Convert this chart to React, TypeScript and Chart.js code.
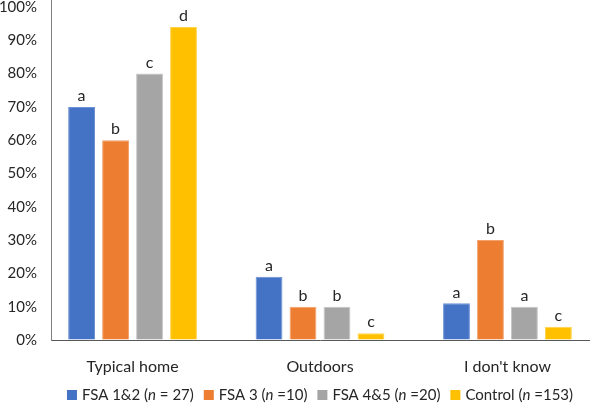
import React, { useEffect, useRef } from "react";
import { Chart, registerables } from "chart.js";

Chart.register(...registerables);

const categories = ["Typical home", "Outdoors", "I don't know"];
const seriesNames = ["FSA 1&2", "FSA 3", "FSA 4&5", "Control"];
const seriesN = [" = 27)", " =10)", " =20)", " =153)"];
const seriesColors = ["#4472C4", "#ED7D31", "#A5A5A5", "#FFC000"];
const seriesBorders = ["#6a8fd4", "#f3a06a", "#c4c4c4", "#ffd24d"];
const fsa12 = [70, 19, 11];
const fsa3 = [60, 10, 30];
const fsa45 = [80, 10, 10];
const control = [94, 2, 4];
const letters12 = ["a", "a", "a"];
const letters3 = ["b", "b", "b"];
const letters45 = ["c", "b", "a"];
const lettersControl = ["d", "c", "c"];
const yTicks = [0, 10, 20, 30, 40, 50, 60, 70, 80, 90, 100];

const seriesValues = [fsa12, fsa3, fsa45, control];
const seriesLetters = [letters12, letters3, letters45, lettersControl];

const FONT = "Lato, 'Open Sans', sans-serif";
const TEXT = "#262626";

export default function App() {
  const ref = useRef<HTMLCanvasElement | null>(null);
  useEffect(() => {
    document.body.style.margin = "0";
    const canvas = ref.current!;
    const lettersPlugin = {
      id: "letters",
      afterDatasetsDraw(chart: any) {
        const ctx = chart.ctx;
        ctx.save();
        ctx.font = `16px ${FONT}`;
        ctx.fillStyle = TEXT;
        ctx.textAlign = "center";
        ctx.textBaseline = "bottom";
        chart.data.datasets.forEach((ds: any, di: number) => {
          const meta = chart.getDatasetMeta(di);
          meta.data.forEach((el: any, i: number) => {
            ctx.fillText(seriesLetters[di][i], el.x, el.y - 3);
          });
        });
        ctx.restore();
      },
    };
    const legendPlugin = {
      id: "customLegend",
      afterDraw(chart: any) {
        const ctx = chart.ctx;
        const area = chart.chartArea;
        const y = 395;
        const box = 10;
        const gapBox = 5;
        const gapItem = 10;
        const normal = `15px ${FONT}`;
        const italic = `italic 15px ${FONT}`;
        ctx.save();
        const widths = seriesNames.map((name, i) => {
          ctx.font = normal;
          const a = ctx.measureText(name + " (").width;
          const c = ctx.measureText(seriesN[i]).width;
          ctx.font = italic;
          const b = ctx.measureText("n").width;
          return { a, b, c, total: box + gapBox + a + b + c };
        });
        const total =
          widths.reduce((s, w) => s + w.total, 0) + gapItem * (widths.length - 1);
        let x = (area.left + area.right) / 2 - total / 2;
        ctx.textBaseline = "middle";
        ctx.textAlign = "left";
        seriesNames.forEach((name, i) => {
          ctx.fillStyle = seriesColors[i];
          ctx.fillRect(x, y - box / 2, box, box);
          let tx = x + box + gapBox;
          ctx.fillStyle = TEXT;
          ctx.font = normal;
          ctx.fillText(name + " (", tx, y);
          tx += widths[i].a;
          ctx.font = italic;
          ctx.fillText("n", tx, y);
          tx += widths[i].b;
          ctx.font = normal;
          ctx.fillText(seriesN[i], tx, y);
          x += widths[i].total + gapItem;
        });
        ctx.restore();
      },
    };
    const chart = new Chart(canvas, {
      type: "bar",
      data: {
        datasets: seriesNames.map((name, di) => ({
          label: name,
          data: seriesValues[di].map((v, i) => ({ x: i, y: v })),
          backgroundColor: seriesColors[di],
          borderColor: seriesBorders[di],
          borderWidth: 1,
          categoryPercentage: 0.725,
          barPercentage: 0.79,
        })),
      },
      options: {
        animation: false,
        responsive: false,
        maintainAspectRatio: false,
        layout: { padding: { top: 0, right: 1, bottom: 0, left: 0 } },
        plugins: { legend: { display: false }, tooltip: { enabled: false } },
        scales: {
          x: {
            type: "linear",
            offset: false,
            min: -0.435,
            max: 2.435,
            grid: { display: true, color: "rgba(0,0,0,0)", drawTicks: false },
            border: { display: true, color: "#595959", width: 1 },
            afterBuildTicks: (scale: any) => {
              scale.ticks = categories.map((_, i) => ({ value: i }));
            },
            afterFit: (scale: any) => {
              scale.height = 64;
              scale.paddingLeft = 0;
              scale.paddingRight = 0;
              scale.paddingTop = 0;
              scale.paddingBottom = 0;
            },
            ticks: {
              autoSkip: false,
              maxRotation: 0,
              padding: 17,
              color: TEXT,
              font: { family: FONT, size: 16 },
              callback: (v: any) => categories[v as number] ?? "",
            },
          },
          y: {
            type: "linear",
            min: 0,
            max: 102.1,
            grid: { display: true, color: "rgba(0,0,0,0)", drawTicks: false },
            border: { display: true, color: "#7f7f7f", width: 1 },
            afterBuildTicks: (scale: any) => {
              scale.ticks = yTicks.map((v) => ({ value: v }));
            },
            afterFit: (scale: any) => {
              scale.width = 51;
              scale.paddingTop = 0;
              scale.paddingBottom = 0;
              scale.paddingLeft = 0;
              scale.paddingRight = 0;
            },
            ticks: {
              padding: 14,
              color: TEXT,
              font: { family: FONT, size: 15 },
              callback: (v: any) => `${v}%`,
            },
          },
        },
      },
      plugins: [lettersPlugin, legendPlugin],
    });
    return () => chart.destroy();
  }, []);
  return (
    <div style={{ width: 590, height: 404, position: "relative" }}>
      <canvas ref={ref} width={590} height={404} style={{ display: "block" }} />
    </div>
  );
}
